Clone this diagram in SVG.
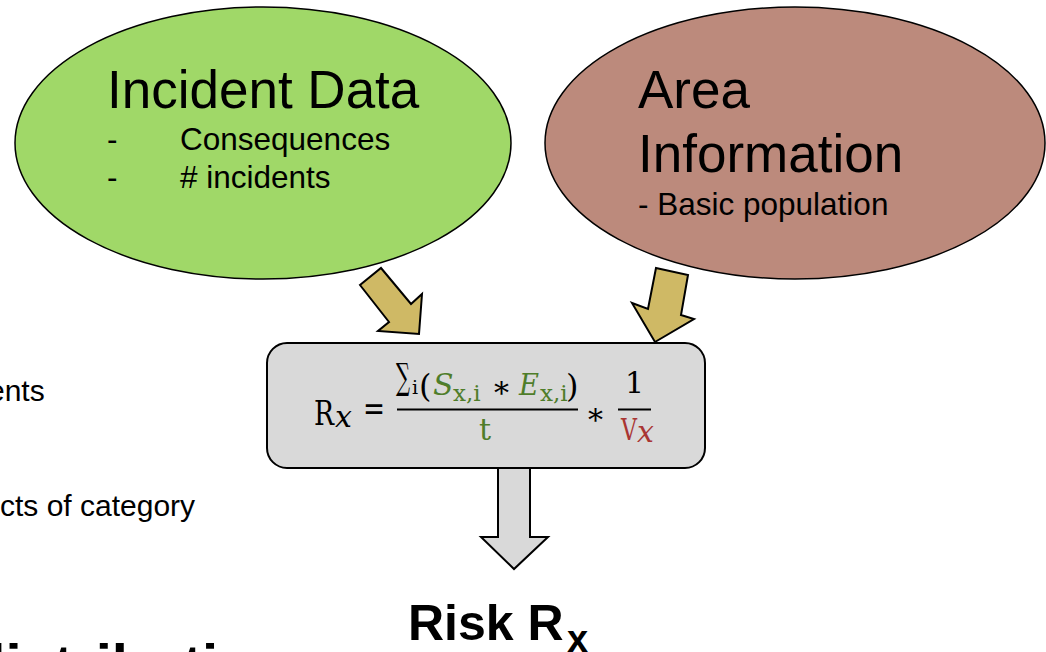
<svg xmlns="http://www.w3.org/2000/svg" width="1046" height="652" viewBox="0 0 1046 652">
  <style>
    .lbl { font-family: "Liberation Sans", Arial, sans-serif; fill: #000; }
    .math { font-family: "DejaVu Serif", "Liberation Serif", serif; fill: #000; }
    .it { font-style: italic; }
    .g { fill: #4f7d2a; }
    .r { fill: #a93533; }
    .edge { stroke: #000; stroke-width: 2; stroke-linejoin: miter; }
    .tan { fill: #cfb965; }
    .grey { fill: #d9d9d9; }
    .rule { stroke: #000; stroke-width: 1.8; }
  </style>
  <rect width="1046" height="652" fill="#ffffff"/>

  <!-- partially visible background texts -->
  <g id="background-text" class="lbl">
    <text x="-12" y="401" font-size="30">ents</text>
    <text x="0" y="516" font-size="30">cts of category</text>
    <text x="-30" y="685" font-size="58" font-weight="bold">distribution</text>
  </g>

  <g id="node-incident">
    <ellipse cx="263" cy="143" rx="248" ry="136" fill="#a0d868" stroke="#000" stroke-width="1.5"/>
    <text class="lbl" x="107" y="108" font-size="53">Incident Data</text>
    <text class="lbl" x="107" y="150" font-size="31.5">-</text>
    <text class="lbl" x="180" y="150" font-size="31.5">Consequences</text>
    <text class="lbl" x="107" y="188" font-size="31.5">-</text>
    <text class="lbl" x="180" y="188" font-size="31.5"># incidents</text>
  </g>

  <g id="node-area">
    <ellipse cx="795" cy="143" rx="250" ry="136" fill="#bc8a7c" stroke="#000" stroke-width="1.5"/>
    <text class="lbl" x="638" y="108" font-size="53">Area</text>
    <text class="lbl" x="638" y="172" font-size="53">Information</text>
    <text class="lbl" x="638" y="215" font-size="31.5">- Basic population</text>
  </g>

  <g id="connectors">
    <polygon class="tan edge" points="360,285 381,268 411,304 422,294 419,334 378,331 389,322"/>
    <polygon class="tan edge" points="656,268 688,275 681,315 694,319 655,342 632,303 648,309"/>
    <polygon class="grey edge" points="498,464 530,464 530,537 548,537 514,569 481,537 498,537"/>
  </g>

  <g id="node-formula">
    <rect x="267" y="343" width="438" height="125" rx="20" ry="20" fill="#d9d9d9" stroke="#000" stroke-width="2"/>
    <text class="math" x="314" y="425" font-size="34" textLength="20" lengthAdjust="spacingAndGlyphs">R</text>
    <text class="math it" x="335" y="427" font-size="30">x</text>
    <text class="math" x="363" y="420" font-size="34" textLength="22" lengthAdjust="spacingAndGlyphs">=</text>
    <text class="math" x="396" y="389" font-size="36" textLength="14" lengthAdjust="spacingAndGlyphs">∑</text>
    <text class="math" x="412" y="394" font-size="19">i</text>
    <text class="math" x="419" y="397" font-size="32">(</text>
    <text class="math it g" x="433" y="395" font-size="30">S</text>
    <text class="math g" x="453" y="401" font-size="23">x,i</text>
    <text class="math" x="494" y="403" font-size="30">*</text>
    <text class="math it g" x="519" y="395" font-size="30" textLength="20" lengthAdjust="spacingAndGlyphs">E</text>
    <text class="math g" x="540" y="401" font-size="23">x,i</text>
    <text class="math" x="566" y="397" font-size="32">)</text>
    <line class="rule" x1="397" y1="409.5" x2="578" y2="409.5"/>
    <text class="math g" x="479" y="440" font-size="30">t</text>
    <text class="math" x="588" y="430" font-size="30">*</text>
    <text class="math" x="625" y="393" font-size="30">1</text>
    <line class="rule" x1="618" y1="409.5" x2="651" y2="409.5"/>
    <text class="math r" x="621" y="440" font-size="30" textLength="16" lengthAdjust="spacingAndGlyphs">V</text>
    <text class="math it r" x="637" y="442" font-size="30">x</text>
  </g>

  <g id="node-risk">
    <text class="lbl" x="408" y="640" font-size="50" font-weight="bold">Risk R</text>
    <text class="lbl" x="567" y="652" font-size="38" font-weight="bold">x</text>
  </g>
</svg>
